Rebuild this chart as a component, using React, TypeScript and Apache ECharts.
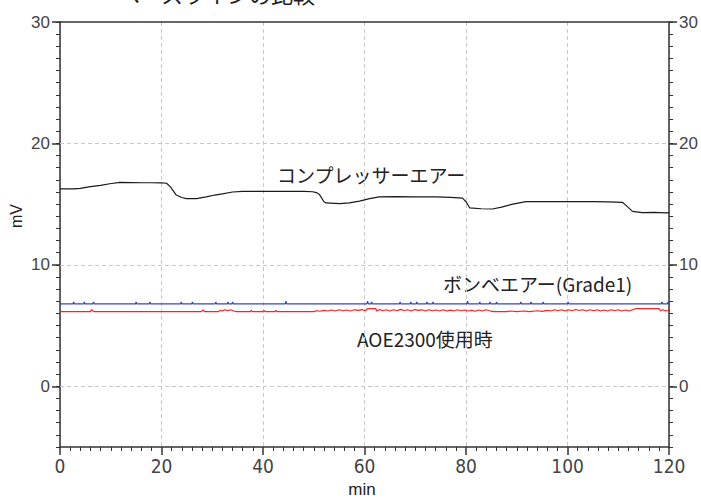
import React, { useEffect, useRef } from "react";
import * as echarts from "echarts";

// ---- data ----
const xTickValues = [0, 20, 40, 60, 80, 100, 120];
const yLabelValues = [0, 10, 20, 30];
const yGridValues = [0, 10, 20];

// compressor air (black) [min, mV]
const compressorAir: [number, number][] = [
  [0, 16.25], [2.6, 16.25], [4, 16.3], [6, 16.45], [8, 16.55], [9.8, 16.68], [11.8, 16.8],
  [14, 16.78], [16, 16.76], [18, 16.76], [20, 16.75], [21, 16.72], [21.8, 16.4], [22.9, 15.75],
  [24, 15.55], [24.9, 15.45], [26.9, 15.45], [28.8, 15.6], [30.5, 15.75], [32, 15.85], [34, 16.0],
  [36, 16.05], [40, 16.05], [44, 16.05], [48, 16.05], [49.8, 16.02], [50.5, 15.95], [51.1, 15.8],
  [52, 15.2], [52.4, 15.1], [55.1, 15.05], [57, 15.1], [59, 15.25], [61, 15.45], [62.9, 15.6],
  [66, 15.62], [70, 15.6], [74, 15.6], [77, 15.55], [79.3, 15.5], [80, 15.2], [80.7, 14.7],
  [83, 14.62], [85.2, 14.6], [87, 14.75], [89.2, 15.0], [91.8, 15.2], [95, 15.2], [100, 15.2],
  [105, 15.2], [108, 15.18], [110.8, 15.15], [111.5, 14.9], [112.8, 14.4], [114.7, 14.3],
  [117, 14.32], [119.4, 14.28], [120, 14.3],
];

// cylinder air (blue): baseline and small spikes [min, peak mV]
const cylinderBase = 6.78;
const cylinderSpikes: [number, number][] = [
  [2.7, 6.95], [4.8, 6.95], [6.6, 6.95], [15.0, 6.95], [17.7, 6.95], [23.9, 6.95], [26.1, 6.95],
  [30.7, 6.95], [33.1, 6.95], [34.0, 6.95], [44.5, 7.0], [60.6, 7.0], [61.4, 6.95], [67.0, 6.95],
  [69.1, 6.95], [70.3, 6.95], [72.3, 6.95], [73.5, 6.95], [80.3, 7.0], [82.7, 6.95], [84.7, 6.95],
  [86.0, 6.95], [90.8, 6.95], [92.8, 6.95], [95.2, 6.95], [100.1, 6.95], [118.6, 6.95], [119.8, 6.95],
];

// AOE2300 (red) [min, mV]
const aoe2300: [number, number][] = [
  [0, 6.15], [6.0, 6.15], [6.2, 6.3], [6.5, 6.2], [6.8, 6.15], [27.8, 6.15], [28.2, 6.28], [28.5, 6.15],
  [31.2, 6.15], [31.6, 6.25], [32.0, 6.2], [32.5, 6.3], [33.0, 6.22], [33.6, 6.3], [34.2, 6.2], [34.8, 6.15],
  [37.5, 6.15], [37.7, 6.25], [37.9, 6.15], [40.0, 6.15], [40.2, 6.25], [40.4, 6.15], [42.3, 6.15],
  [42.5, 6.25], [42.7, 6.15], [50, 6.15], [50.6, 6.22], [51.2, 6.18], [52, 6.25], [52.8, 6.2],
  [53.5, 6.28], [54.2, 6.2], [55, 6.3], [55.8, 6.22], [56.5, 6.28], [57.2, 6.2], [58, 6.3],
  [58.8, 6.25], [59.5, 6.32], [60.2, 6.22], [60.6, 6.4], [62.2, 6.4], [62.4, 6.2], [63, 6.32],
  [63.6, 6.22], [64.3, 6.3], [65, 6.2], [65.7, 6.3], [66.4, 6.22], [67.1, 6.33], [67.8, 6.24],
  [68.5, 6.3], [69.2, 6.2], [69.9, 6.32], [70.6, 6.25], [71.3, 6.3], [72, 6.2], [72.7, 6.3],
  [73.4, 6.22], [74.1, 6.28], [74.8, 6.2], [75.5, 6.3], [76.2, 6.2], [76.9, 6.27], [77.6, 6.2],
  [78.3, 6.3], [79, 6.22], [79.7, 6.28], [80.4, 6.2], [81.1, 6.25], [81.8, 6.18], [82.5, 6.28],
  [83.2, 6.2], [83.9, 6.3], [84.6, 6.22], [85.3, 6.15], [88, 6.15], [88.8, 6.2], [90, 6.15],
  [91.5, 6.2], [92.5, 6.15], [94, 6.22], [95, 6.17], [96, 6.25], [96.7, 6.2], [97.4, 6.3],
  [98.1, 6.22], [98.8, 6.3], [99.5, 6.2], [100.2, 6.3], [100.9, 6.22], [101.6, 6.32], [102.3, 6.24],
  [103, 6.3], [103.7, 6.2], [104.4, 6.3], [105.1, 6.22], [105.8, 6.3], [106.5, 6.2], [107.2, 6.28],
  [107.9, 6.2], [108.6, 6.3], [109.3, 6.22], [110, 6.3], [110.7, 6.2], [111.4, 6.28], [112.1, 6.2],
  [112.8, 6.3], [113.5, 6.4], [118, 6.4], [118.3, 6.22], [118.8, 6.3], [119.3, 6.2], [120, 6.28],
];

const labelCompressor = "コンプレッサーエアー";
const labelCylinder = "ボンベエアー(Grade1)";
const labelAoe = "AOE2300使用時";
const titleText = "ベースラインの比較";

const AXIS_COLOR = "#333";
const LABEL_COLOR = "#444";
const CJK = "'Noto Sans CJK JP', 'Noto Sans', sans-serif";

export default function App() {
  const ref = useRef<HTMLDivElement>(null);
  useEffect(() => {
    if (!ref.current) return;
    const chart = echarts.init(ref.current, undefined, { renderer: "svg" });

    const cylinderData: [number, number][] = [[0, cylinderBase]];
    cylinderSpikes.forEach(([t, v]) => {
      cylinderData.push([t - 0.15, cylinderBase], [t, v], [t + 0.15, cylinderBase]);
    });
    cylinderData.push([120, cylinderBase]);

    const yMinorAxis = (position: "left" | "right") => ({
      type: "value",
      position,
      min: -5,
      max: 30,
      interval: 1,
      axisLine: { show: true, lineStyle: { color: AXIS_COLOR, width: 1.5 } },
      axisTick: { show: true, length: 4, inside: false, lineStyle: { color: AXIS_COLOR } },
      axisLabel: { show: false },
      splitLine: { show: false },
    });
    const yMajorAxis = (position: "left" | "right") => ({
      type: "value",
      position,
      min: -5,
      max: 30,
      axisLine: { show: false },
      axisTick: { show: true, length: 8, customValues: yLabelValues, lineStyle: { color: AXIS_COLOR, width: 1.5 } },
      axisLabel: {
        show: true,
        customValues: yLabelValues,
        margin: 10,
        color: LABEL_COLOR,
        fontSize: 17,
        fontFamily: "'Liberation Sans', Arial, sans-serif",
      },
      splitLine: { show: false },
    });

    chart.setOption({
      animation: false,
      backgroundColor: "#fff",
      grid: { left: 60, right: 31, top: 22, bottom: 52, containLabel: false },
      xAxis: [
        {
          type: "value",
          position: "bottom",
          min: 0,
          max: 120,
          interval: 20,
          axisLine: { show: true, onZero: false, lineStyle: { color: AXIS_COLOR, width: 1.5 } },
          axisTick: { show: true, length: 8, lineStyle: { color: AXIS_COLOR, width: 1.5 } },
          minorTick: { show: true, splitNumber: 10, length: 4, lineStyle: { color: AXIS_COLOR } },
          axisLabel: {
            color: LABEL_COLOR,
            fontSize: 19,
            margin: 9,
            fontFamily: "'Liberation Sans Narrow', 'DejaVu Sans Condensed', 'Liberation Sans', sans-serif",
            customValues: xTickValues,
          },
          splitLine: { show: true, lineStyle: { color: "#c8c8c8", type: [4, 3], width: 1 } },
        },
        {
          type: "value",
          position: "top",
          min: 0,
          max: 120,
          axisLine: { show: true, onZero: false, lineStyle: { color: AXIS_COLOR, width: 1.5 } },
          axisTick: { show: false },
          axisLabel: { show: false },
          splitLine: { show: false },
        },
      ],
      yAxis: [yMinorAxis("left"), yMajorAxis("left"), yMinorAxis("right"), yMajorAxis("right")],
      series: [
        {
          type: "line",
          name: labelCompressor,
          xAxisIndex: 0,
          yAxisIndex: 0,
          data: compressorAir,
          showSymbol: false,
          symbol: "none",
          lineStyle: { color: "#1a1a1a", width: 1.2 },
          z: 5,
          markLine: {
            silent: true,
            symbol: ["none", "none"],
            label: { show: false },
            lineStyle: { color: "#c8c8c8", type: [4, 3], width: 1 },
            data: yGridValues.map((v) => ({ yAxis: v })),
            z: 1,
          },
        },
        {
          type: "line",
          name: labelCylinder,
          xAxisIndex: 0,
          yAxisIndex: 0,
          data: cylinderData,
          showSymbol: false,
          symbol: "none",
          lineStyle: { color: "#3347c4", width: 1.2 },
          z: 4,
        },
        {
          type: "line",
          name: labelAoe,
          xAxisIndex: 0,
          yAxisIndex: 0,
          data: aoe2300,
          showSymbol: false,
          symbol: "none",
          lineStyle: { color: "#ff2020", width: 1.2 },
          z: 4,
        },
      ],
      graphic: [
        {
          type: "text",
          left: 118,
          top: -18,
          style: { text: titleText, fontSize: 22, fontFamily: CJK, fill: "#222" },
        },
        {
          type: "text",
          x: 277,
          y: 174,
          style: { text: labelCompressor, fontSize: 19, fontFamily: CJK, fill: "#222", verticalAlign: "middle", align: "left" },
        },
        {
          type: "text",
          x: 443,
          y: 283,
          style: { text: labelCylinder, fontSize: 19, fontFamily: CJK, fill: "#222", verticalAlign: "middle", align: "left" },
        },
        {
          type: "text",
          x: 357,
          y: 338,
          style: { text: labelAoe, fontSize: 19, fontFamily: CJK, fill: "#222", verticalAlign: "middle", align: "left" },
        },
        {
          type: "text",
          x: 16,
          y: 216,
          rotation: Math.PI / 2,
          style: { text: "mV", fontSize: 16, fontFamily: "'Liberation Sans', Arial, sans-serif", fill: "#222", align: "center", verticalAlign: "middle" },
        },
        {
          type: "text",
          x: 362,
          y: 489,
          style: { text: "min", fontSize: 17, fontFamily: "'Liberation Sans', Arial, sans-serif", fill: "#222", align: "center", verticalAlign: "middle" },
        },
      ],
    });
    return () => chart.dispose();
  }, []);
  return <div ref={ref} style={{ position: "fixed", left: 0, top: 0, width: 701, height: 499 }} />;
}
